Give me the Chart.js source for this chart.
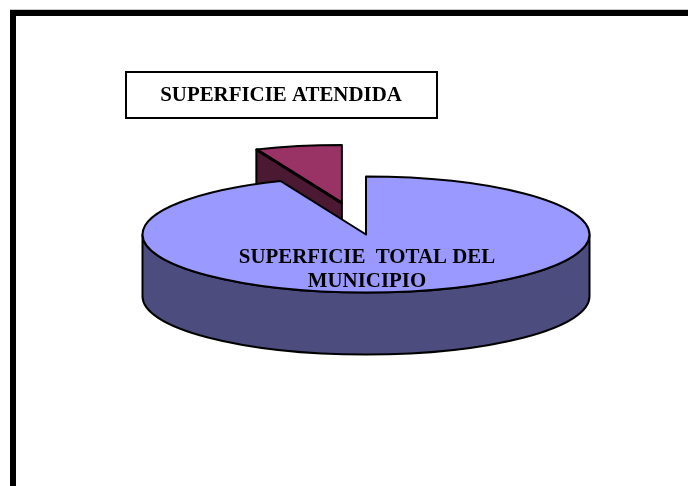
<!DOCTYPE html>
<html>
<head>
<meta charset="utf-8">
<title>Superficie atendida</title>
<script src="https://cdn.jsdelivr.net/npm/chart.js@4/dist/chart.umd.js"></script>
<style>
  html, body { margin: 0; padding: 0; background: #fff; overflow: hidden; }
  canvas { display: block; }
</style>
</head>
<body>
<canvas id="pie3d" width="688" height="486"></canvas>
<script>
const categories = ["SUPERFICIE TOTAL DEL MUNICIPIO", "SUPERFICIE ATENDIDA"];
const values = [93.75, 6.25];
const topColors = ["#9999ff", "#993366"];
const wallColors = ["#4c4c7f", "#4c1933"];
const explode = [0, 0.553];
const mainLabelLines = ["SUPERFICIE  TOTAL DEL", "MUNICIPIO"];

const RADIUS = 223.5;
const SQUASH = 58 / 223.5;
const DEPTH = 62;

// pie is laid out as a flat circle, the plugin tilts and extrudes it
function sliceGeometry(arc, i) {
    const mid = (arc.startAngle + arc.endAngle) / 2;
    const out = explode[i] * arc.outerRadius;
    return {
        cx: arc.x + Math.cos(mid) * out,
        cy: arc.y + Math.sin(mid) * out * SQUASH,
        rx: arc.outerRadius,
        ry: arc.outerRadius * SQUASH,
        start: arc.startAngle,
        end: arc.endAngle,
    };
}

function drawTop(ctx, arc, i) {
    const g = sliceGeometry(arc, i);
    ctx.save();
    ctx.translate(g.cx, g.cy);
    ctx.scale(1, SQUASH);
    ctx.translate(-arc.x, -arc.y);
    arc.draw(ctx);
    ctx.restore();

    ctx.beginPath();
    ctx.moveTo(g.cx, g.cy);
    ctx.ellipse(g.cx, g.cy, g.rx, g.ry, 0, g.start, g.end);
    ctx.closePath();
    ctx.stroke();
}

// front half of the rim, only for the big slice
function drawRim(ctx, arc, i) {
    const g = sliceGeometry(arc, i);
    ctx.beginPath();
    ctx.ellipse(g.cx, g.cy, g.rx, g.ry, 0, 0, Math.PI);
    ctx.lineTo(g.cx - g.rx, g.cy + DEPTH);
    ctx.ellipse(g.cx, g.cy + DEPTH, g.rx, g.ry, 0, Math.PI, 0, true);
    ctx.closePath();
    ctx.fillStyle = wallColors[i];
    ctx.fill();
    ctx.stroke();
}

// cut face of the pulled out slice, hangs from its start edge
function drawCutFace(ctx, arc, i) {
    const g = sliceGeometry(arc, i);
    const ex = g.cx + Math.cos(g.start) * g.rx;
    const ey = g.cy + Math.sin(g.start) * g.ry;
    ctx.beginPath();
    ctx.moveTo(g.cx, g.cy);
    ctx.lineTo(ex, ey);
    ctx.lineTo(ex, ey + DEPTH);
    ctx.lineTo(g.cx, g.cy + DEPTH);
    ctx.closePath();
    ctx.fillStyle = wallColors[i];
    ctx.fill();
    ctx.stroke();
}

// the edge shared by top and cut face is heavier in the picture
function drawCutEdge(ctx, arc, i) {
    const g = sliceGeometry(arc, i);
    ctx.save();
    ctx.lineWidth = 3;
    ctx.beginPath();
    ctx.moveTo(g.cx, g.cy);
    ctx.lineTo(g.cx + Math.cos(g.start) * g.rx, g.cy + Math.sin(g.start) * g.ry);
    ctx.stroke();
    ctx.restore();
}

const pie3dPlugin = {
    id: "pie3d",
    beforeDraw(chart) {
        const ctx = chart.ctx;
        ctx.save();
        ctx.fillStyle = "#c8c8c8";
        ctx.fillRect(10, 9, 678, 1);
        ctx.fillStyle = "#000";
        ctx.fillRect(10, 10, 678, 6);
        ctx.fillRect(10, 10, 6, 476);
        ctx.restore();
    },
    beforeDatasetsDraw(chart) {
        const ctx = chart.ctx;
        const arcs = chart.getDatasetMeta(0).data;
        ctx.save();
        ctx.strokeStyle = "#000";
        ctx.lineWidth = 2;
        ctx.lineJoin = "round";
        drawCutFace(ctx, arcs[1], 1);
        drawTop(ctx, arcs[1], 1);
        drawCutEdge(ctx, arcs[1], 1);
        drawRim(ctx, arcs[0], 0);
        drawTop(ctx, arcs[0], 0);
        ctx.restore();
        return false;
    },
    afterDraw(chart) {
        const ctx = chart.ctx;
        ctx.save();
        ctx.fillStyle = "#fff";
        ctx.strokeStyle = "#000";
        ctx.lineWidth = 2;
        ctx.fillRect(126, 72, 311, 46);
        ctx.strokeRect(126, 72, 311, 46);

        ctx.fillStyle = "#000";
        ctx.textAlign = "center";
        ctx.textBaseline = "alphabetic";
        ctx.font = "bold 20.9px 'Liberation Serif'";
        ctx.fillText(categories[1], 281, 101);
        ctx.fillText(mainLabelLines[0], 367, 263);
        ctx.fillText(mainLabelLines[1], 367, 287);
        ctx.restore();
    },
};

new Chart(document.getElementById("pie3d"), {
    type: "pie",
    data: {
        labels: categories,
        datasets: [
            {
                data: values,
                backgroundColor: topColors,
                borderWidth: 0,
                hoverOffset: 0,
            },
        ],
    },
    options: {
        responsive: false,
        animation: false,
        radius: RADIUS,
        layout: { padding: { left: 44, bottom: 17 } },
        plugins: {
            legend: { display: false },
            tooltip: { enabled: false },
        },
    },
    plugins: [pie3dPlugin],
});
</script>
</body>
</html>
